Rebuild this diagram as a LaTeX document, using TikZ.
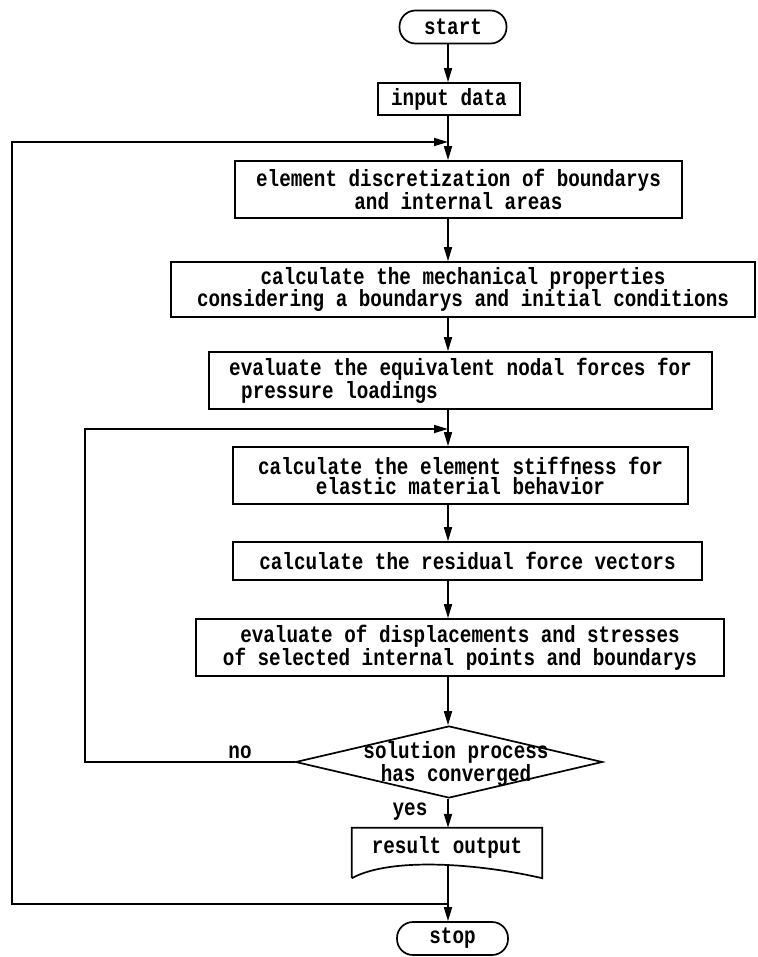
\documentclass[tikz,border=0pt]{standalone}
\usepackage{fontspec}
\newfontfamily\flowfont[FakeStretch=0.82]{Liberation Mono}
\usetikzlibrary{arrows.meta,shapes.geometric}
\begin{document}
\begin{tikzpicture}[x=1pt,y=-1pt,
  every node/.style={font=\flowfont\bfseries\fontsize{23.5}{20}\selectfont, inner sep=0pt, align=center},
  box/.style={draw, line width=1.7pt},
  term/.style={box, rounded corners=16pt},
  arr/.style={line width=1.7pt, -{Triangle[length=14pt,width=8pt]}},
  line/.style={line width=1.7pt},
]
\useasboundingbox (0,0) rectangle (757,957);
% axis and loop coordinates
\coordinate (ax) at (448,0);
\coordinate (ot) at (448,142);
\coordinate (ob) at (448,904);
\coordinate (oL) at (12,0);
\coordinate (it) at (448,429);
\coordinate (iL) at (85,0);
\coordinate (resbot) at (448,866);

\node[term, minimum width=107pt, minimum height=33pt] (start) at (453,27) {start};
\node[box, minimum width=142pt, minimum height=32pt] (input) at (449,99) {input data};
\node[box, minimum width=447pt, minimum height=57pt] (elem) at (458.5,189.5) {element discretization of boundarys\\and internal areas};
\node[box, minimum width=584pt, minimum height=55pt] (mech) at (463,289.5) {calculate the mechanical properties\\considering a boundarys and initial conditions};
\node[box, minimum width=503pt, minimum height=57pt, align=left] (equiv) at (460.5,380.5) {evaluate the equivalent nodal forces for\\\hspace*{12pt}pressure loadings};
\node[box, minimum width=455pt, minimum height=57pt] (stiff) at (460.5,475.5) {calculate the element stiffness for\\elastic material behavior};
\node[box, minimum width=469pt, minimum height=38pt] (resid) at (467.5,561) {calculate the residual force vectors};
\node[box, minimum width=528pt, minimum height=57pt] (displ) at (460,647.5) {evaluate of displacements and stresses\\of selected internal points and boundarys};
\node[draw, diamond, line width=1.7pt, minimum width=307pt, minimum height=72pt] (dec) at (449,762) {};
\node (dectext) at (456,764) {solution process\\has converged};
\node[minimum width=190pt, minimum height=50pt] (res) at (447,853) {};
\node (restext) at (447,847) {result output};
\draw[line] (res.south west) -- (res.north west) -- (res.north east) -- (res.south east)
  .. controls ([xshift=-60pt,yshift=14pt]res.south east) and ([xshift=40pt,yshift=22pt]res.south west) .. (res.south west);
\node[term, minimum width=111pt, minimum height=33pt] (stop) at (452.5,938.5) {stop};
\node (no) at (240,752) {no};
\node (yes) at (410,812) {yes};

% main flow
\draw[arr] (start.south -| ax) -- (input.north -| ax);
\draw[arr] (input.south -| ax) -- (elem.north -| ax);
\draw[arr] (elem.south -| ax) -- (mech.north -| ax);
\draw[arr] (mech.south -| ax) -- (equiv.north -| ax);
\draw[arr] (equiv.south -| ax) -- (stiff.north -| ax);
\draw[arr] (stiff.south -| ax) -- (resid.north -| ax);
\draw[arr] (resid.south -| ax) -- (displ.north -| ax);
\draw[arr] (displ.south -| ax) -- (dec.north -| ax);
\draw[arr] (dec.south -| ax) -- (res.north -| ax);
\draw[arr] (resbot) -- (stop.north -| ax);
% loops
\draw[arr] (ob) -- (ob -| oL) -- (ot -| oL) -- (ot);
\draw[arr] (dec.west) -- (dec.west -| iL) -- (it -| iL) -- (it);
\end{tikzpicture}
\end{document}
